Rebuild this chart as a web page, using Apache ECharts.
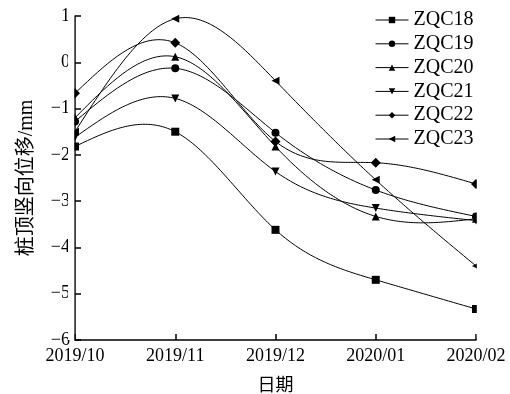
<!DOCTYPE html>
<html>
<head>
<meta charset="utf-8">
<script src="https://cdn.jsdelivr.net/npm/echarts@6/dist/echarts.min.js"></script>
<style>
  html, body { margin: 0; padding: 0; background: #fff; }
  #chart { width: 510px; height: 394px; }
</style>
</head>
<body>
<div id="chart"></div>
<script>
// Pile-top vertical displacement (mm), monthly readings
const months = ['2019/10', '2019/11', '2019/12', '2020/01', '2020/02'];
const ZQC18 = [-1.82, -1.50, -3.62, -4.70, -5.33];
const ZQC19 = [-1.28, -0.13, -1.52, -2.76, -3.33];
const ZQC20 = [-1.20, 0.12, -1.82, -3.33, -3.38];
const ZQC21 = [-1.62, -0.78, -2.36, -3.15, -3.42];
const ZQC22 = [-0.67, 0.42, -1.71, -2.17, -2.63];
const ZQC23 = [-1.50, 0.94, -0.40, -2.54, -4.40];
const yTicks = [-6, -5, -4, -3, -2, -1, 0, 1];

const FONT = '"Liberation Serif", "Times New Roman", "Noto Sans CJK SC", serif';

// Natural cubic spline through pixel points, returned as a dense polyline
function splinePolyline(pts, steps) {
  const n = pts.length;
  if (n < 3) return pts;
  const x = pts.map(p => p[0]), y = pts.map(p => p[1]);
  const h = [];
  for (let i = 0; i < n - 1; i++) h.push(x[i + 1] - x[i]);
  // tridiagonal system for second derivatives (M0 = Mn-1 = 0)
  const a = new Array(n).fill(0), b = new Array(n).fill(1), c = new Array(n).fill(0), d = new Array(n).fill(0);
  for (let i = 1; i < n - 1; i++) {
    a[i] = h[i - 1];
    b[i] = 2 * (h[i - 1] + h[i]);
    c[i] = h[i];
    d[i] = 6 * ((y[i + 1] - y[i]) / h[i] - (y[i] - y[i - 1]) / h[i - 1]);
  }
  for (let i = 1; i < n; i++) {
    const m = a[i] / b[i - 1];
    b[i] -= m * c[i - 1];
    d[i] -= m * d[i - 1];
  }
  const M = new Array(n).fill(0);
  M[n - 1] = d[n - 1] / b[n - 1];
  for (let i = n - 2; i >= 0; i--) M[i] = (d[i] - c[i] * M[i + 1]) / b[i];
  M[0] = 0; M[n - 1] = 0;
  const out = [];
  for (let i = 0; i < n - 1; i++) {
    for (let s = 0; s < steps; s++) {
      const t = s / steps;
      const xx = x[i] + t * h[i];
      const A = 1 - t, B = t;
      const yy = A * y[i] + B * y[i + 1] +
        ((A * A * A - A) * M[i] + (B * B * B - B) * M[i + 1]) * h[i] * h[i] / 6;
      out.push([xx, yy]);
    }
  }
  out.push([x[n - 1], y[n - 1]]);
  return out;
}

function markerSeries(name, data, symbol, rotate) {
  return {
    name: name,
    type: 'line',
    data: data,
    symbol: symbol,
    symbolSize: symbol === 'diamond' ? 10 : 8,
    symbolRotate: rotate,
    showAllSymbol: true,
    lineStyle: { opacity: 0 },
    itemStyle: { color: '#000', borderWidth: 0 },
    emphasis: { disabled: true },
    z: 3
  };
}

function curveSeries(name, data) {
  return {
    name: name + ' spline',
    type: 'custom',
    coordinateSystem: 'cartesian2d',
    data: [[0, data[0]]],
    silent: true,
    z: 2,
    renderItem: function (params, api) {
      const pts = data.map((v, i) => api.coord([i, v]));
      return {
        type: 'polyline',
        shape: { points: splinePolyline(pts, 40) },
        style: { stroke: '#000', lineWidth: 1, fill: null }
      };
    }
  };
}

const stations = [
  ['ZQC18', ZQC18, 'rect', 0],
  ['ZQC19', ZQC19, 'circle', 0],
  ['ZQC20', ZQC20, 'triangle', 0],
  ['ZQC21', ZQC21, 'triangle', 180],
  ['ZQC22', ZQC22, 'diamond', 0],
  ['ZQC23', ZQC23, 'triangle', 90]
];

const series = [];
stations.forEach(s => series.push(markerSeries(s[0], s[1], s[2], s[3])));
stations.forEach(s => series.push(curveSeries(s[0], s[1])));

const chart = echarts.init(document.getElementById('chart'), null, { renderer: 'canvas' });

chart.setOption({
  animation: false,
  backgroundColor: '#fff',
  grid: { left: 75, right: 34, top: 16, bottom: 54, containLabel: false, outerBoundsMode: 'none' },
  legend: {
    orient: 'vertical',
    left: 375,
    top: 10,
    padding: 0,
    itemWidth: 33,
    itemHeight: 8,
    itemGap: 3.8,
    selectedMode: false,
    lineStyle: { color: '#000', width: 1, opacity: 1 },
    textStyle: { fontFamily: FONT, fontSize: 20, color: '#000', lineHeight: 20 },
    data: stations.map(s => s[0])
  },
  xAxis: {
    type: 'category',
    data: months,
    boundaryGap: false,
    name: '日期',
    nameLocation: 'middle',
    nameGap: 37,
    nameTextStyle: { fontFamily: FONT, fontSize: 18, color: '#000' },
    axisLine: { onZero: false, lineStyle: { color: '#000', width: 1.5 } },
    axisTick: { inside: true, length: 6, lineStyle: { color: '#000', width: 1.5 } },
    axisLabel: { fontFamily: FONT, fontSize: 18, color: '#000', margin: 7 },
    splitLine: { show: false }
  },
  yAxis: {
    type: 'value',
    min: yTicks[0],
    max: yTicks[yTicks.length - 1],
    interval: 1,
    name: '桩顶竖向位移/mm',
    nameLocation: 'middle',
    nameGap: 38,
    nameTextStyle: { fontFamily: FONT, fontSize: 20, color: '#000' },
    axisLine: { show: true, lineStyle: { color: '#000', width: 1.5 } },
    axisTick: { show: true, inside: true, length: 6, lineStyle: { color: '#000', width: 1.5 } },
    axisLabel: {
      fontFamily: FONT, fontSize: 18, color: '#000', margin: 5,
      formatter: v => String(v).replace('-', '\u2212')
    },
    splitLine: { show: false }
  },
  series: series
});

// Trim the halves of the end markers that stick out past the plot edges
const tl = chart.convertToPixel({ gridIndex: 0 }, [months[0], yTicks[yTicks.length - 1]]);
const br = chart.convertToPixel({ gridIndex: 0 }, [months[months.length - 1], yTicks[0]]);
chart.setOption({
  graphic: [
    { type: 'rect', z: 3.5, silent: true,
      shape: { x: tl[0] - 7, y: tl[1] - 8, width: 6.2, height: br[1] - tl[1] + 8 },
      style: { fill: '#fff' } },
    { type: 'rect', z: 3.5, silent: true,
      shape: { x: br[0] + 0.8, y: tl[1] - 8, width: 7, height: br[1] - tl[1] + 6 },
      style: { fill: '#fff' } }
  ]
});
</script>
</body>
</html>
